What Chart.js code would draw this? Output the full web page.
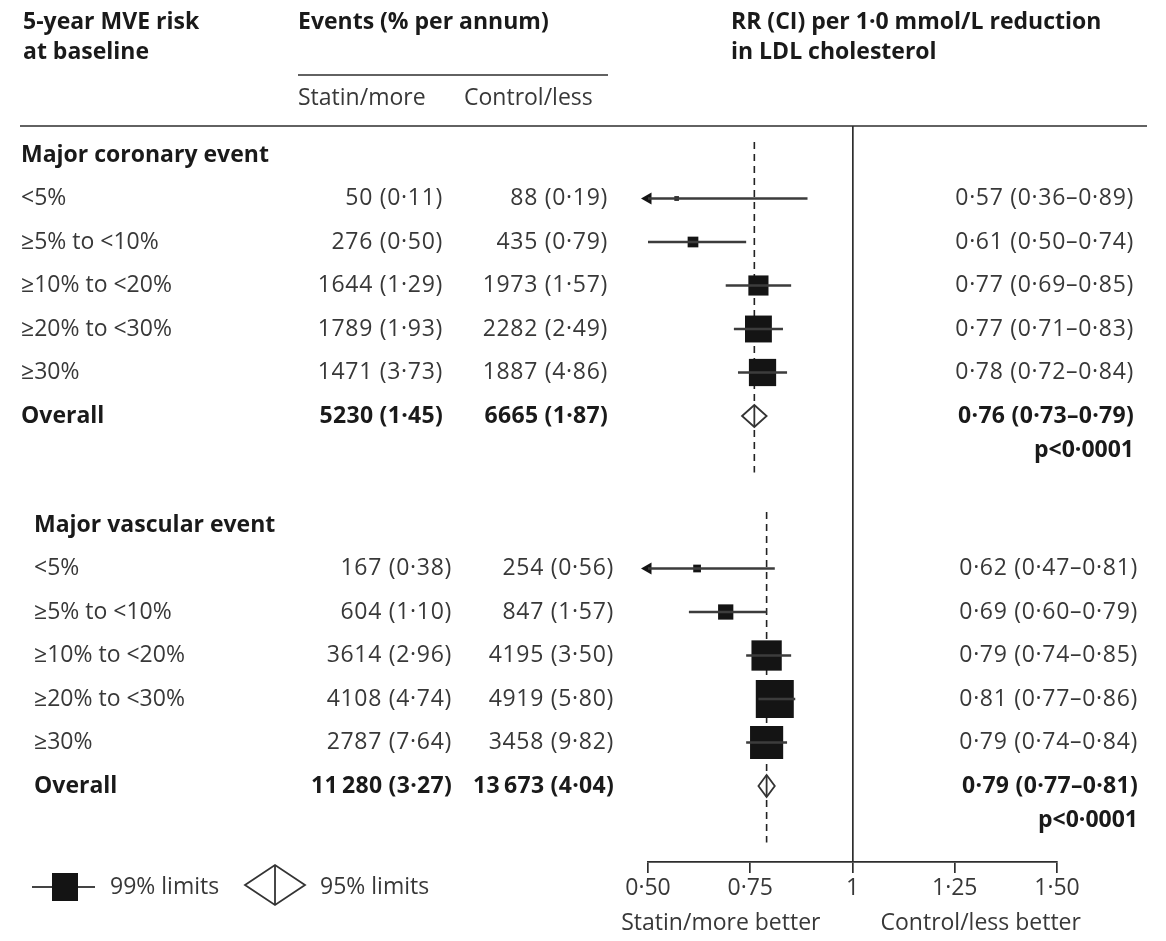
<!DOCTYPE html>
<html>
<head>
<meta charset="utf-8">
<script src="https://cdn.jsdelivr.net/npm/chart.js@4.4.1/dist/chart.umd.min.js"></script>
<style>
  html, body { margin: 0; padding: 0; background: #ffffff; }
  canvas { display: block; }
</style>
</head>
<body>
<canvas id="forest" width="1166" height="941"></canvas>
<script>
// ---- Data ---------------------------------------------------------------
// 5-year major vascular event risk at baseline
const riskGroups = ['<5%', '≥5% to <10%', '≥10% to <20%', '≥20% to <30%', '≥30%'];

// Major coronary event
const coronaryStatinEvents  = [50, 276, 1644, 1789, 1471];
const coronaryStatinRate    = [0.11, 0.50, 1.29, 1.93, 3.73];
const coronaryControlEvents = [88, 435, 1973, 2282, 1887];
const coronaryControlRate   = [0.19, 0.79, 1.57, 2.49, 4.86];
const coronaryRR    = [0.57, 0.61, 0.77, 0.77, 0.78];
const coronaryLower = [0.36, 0.50, 0.69, 0.71, 0.72];
const coronaryUpper = [0.89, 0.74, 0.85, 0.83, 0.84];
const coronaryOverallEvents = [5230, 6665];   // statin/more, control/less
const coronaryOverallRate   = [1.45, 1.87];
const coronaryOverallRR     = [0.76, 0.73, 0.79]; // RR, lower, upper

// Major vascular event
const vascularStatinEvents  = [167, 604, 3614, 4108, 2787];
const vascularStatinRate    = [0.38, 1.10, 2.96, 4.74, 7.64];
const vascularControlEvents = [254, 847, 4195, 4919, 3458];
const vascularControlRate   = [0.56, 1.57, 3.50, 5.80, 9.82];
const vascularRR    = [0.62, 0.69, 0.79, 0.81, 0.79];
const vascularLower = [0.47, 0.60, 0.74, 0.77, 0.74];
const vascularUpper = [0.81, 0.79, 0.85, 0.86, 0.84];
const vascularOverallEvents = [11280, 13673];
const vascularOverallRate   = [3.27, 4.04];
const vascularOverallRR     = [0.79, 0.77, 0.81];

const overallP = ['p<0·0001', 'p<0·0001'];

// Rate-ratio axis
const axisTicks      = [0.5, 0.75, 1, 1.25, 1.5];
const axisTickLabels = ['0·50', '0·75', '1', '1·25', '1·50'];

// ---- Layout & style ----------------------------------------------------
const W = 1166, H = 941;
const PLOT_TOP = 126, PLOT_BOTTOM = 862, PLOT_LEFT = 648, PLOT_RIGHT = 1057;
const ROW = 43.5;                 // pixels per table row
const FIRST_ROW_Y = 155;          // centre of the first section heading
const Y_MIN = -(FIRST_ROW_Y - PLOT_TOP) / ROW;
const Y_MAX = Y_MIN + (PLOT_BOTTOM - PLOT_TOP) / ROW;
const BOX_SCALE = 4.2;            // box side (px) per unit of 1/ln(upper/lower)

const FONT = '"Open Sans", "Noto Sans", sans-serif';
const FONT_SIZE = 23;
const TEXT = '#383838';
const TEXT_BOLD = '#1a1a1a';
const LINE = '#2e2e2e';

const sections = [
  {
    title: 'Major coronary event', start: 0,
    statinN: coronaryStatinEvents, statinR: coronaryStatinRate,
    controlN: coronaryControlEvents, controlR: coronaryControlRate,
    rr: coronaryRR, lo: coronaryLower, hi: coronaryUpper,
    overallN: coronaryOverallEvents, overallR: coronaryOverallRate, overall: coronaryOverallRR,
    p: overallP[0],
    cols: { label: 21, statin: 443, control: 608, rr: 1134 }
  },
  {
    title: 'Major vascular event', start: (525 - FIRST_ROW_Y) / ROW,
    statinN: vascularStatinEvents, statinR: vascularStatinRate,
    controlN: vascularControlEvents, controlR: vascularControlRate,
    rr: vascularRR, lo: vascularLower, hi: vascularUpper,
    overallN: vascularOverallEvents, overallR: vascularOverallRate, overall: vascularOverallRR,
    p: overallP[1],
    cols: { label: 34, statin: 452, control: 614, rr: 1138 }
  }
];

// ---- Formatting --------------------------------------------------------
const dec = (v, d) => v.toFixed(d).replace('.', '·');
const count = n => n >= 10000 ? String(n).replace(/(\d)(?=(\d{3})+$)/g, '$1\u2009') : String(n);
const eventText = (n, r) => `${count(n)} (${dec(r, 2)})`;
const rrText = (rr, lo, hi) => `${dec(rr, 2)} (${dec(lo, 2)}–${dec(hi, 2)})`;

// ---- Datasets ----------------------------------------------------------
const ciData = [], boxData = [], boxRadius = [], arrowData = [];
sections.forEach(s => {
  s.rr.forEach((rr, i) => {
    const y = s.start + 1 + i;
    ciData.push({ x: Math.max(s.lo[i], axisTicks[0]), y }, { x: s.hi[i], y }, { x: null, y: null });
    boxData.push({ x: rr, y });
    const side = BOX_SCALE / Math.log(s.hi[i] / s.lo[i]);
    boxRadius.push(side / Math.SQRT2);
    if (s.lo[i] < axisTicks[0]) arrowData.push({ x: axisTicks[0], y });
  });
});

// ---- Drawing helpers ---------------------------------------------------
function text(ctx, str, x, y, opts = {}) {
  ctx.save();
  ctx.font = `${opts.bold ? 'bold ' : ''}${opts.size || FONT_SIZE}px ${FONT}`;
  ctx.fillStyle = opts.bold ? TEXT_BOLD : TEXT;
  ctx.textAlign = opts.align || 'left';
  ctx.textBaseline = 'middle';
  if ('letterSpacing' in ctx) ctx.letterSpacing = (opts.spacing || 0) + 'px';
  ctx.fillText(str, x, y);
  ctx.restore();
}
function hline(ctx, x1, x2, y, w = 1.7) {
  ctx.save();
  ctx.strokeStyle = LINE; ctx.lineWidth = w;
  ctx.beginPath(); ctx.moveTo(x1, y); ctx.lineTo(x2, y); ctx.stroke();
  ctx.restore();
}
function diamond(ctx, xl, xc, xr, yc, half) {
  ctx.save();
  ctx.beginPath();
  ctx.moveTo(xl, yc); ctx.lineTo(xc, yc - half); ctx.lineTo(xr, yc); ctx.lineTo(xc, yc + half);
  ctx.closePath();
  ctx.fillStyle = '#ffffff'; ctx.fill();
  ctx.strokeStyle = '#333333'; ctx.lineWidth = 1.8; ctx.stroke();
  ctx.beginPath(); ctx.moveTo(xc, yc - half); ctx.lineTo(xc, yc + half); ctx.stroke();
  ctx.restore();
}

// Reference lines at each section's overall estimate, behind the markers
const referencePlugin = {
  id: 'overallReference',
  beforeDatasetsDraw(chart) {
    const { ctx, scales: { x, y } } = chart;
    ctx.save();
    ctx.strokeStyle = '#222'; ctx.lineWidth = 1.6; ctx.setLineDash([7, 5]);
    sections.forEach(s => {
      const px = x.getPixelForValue(s.overall[0]);
      ctx.beginPath();
      ctx.moveTo(px, y.getPixelForValue(s.start - 0.3));
      ctx.lineTo(px, y.getPixelForValue(s.start + 7.3));
      ctx.stroke();
    });
    ctx.restore();
  }
};

// Overall estimates as diamonds spanning their confidence limits
const diamondPlugin = {
  id: 'overallDiamonds',
  afterDatasetsDraw(chart) {
    const { ctx, scales: { x, y } } = chart;
    sections.forEach(s => {
      const [rr, lo, hi] = s.overall;
      diamond(ctx, x.getPixelForValue(lo), x.getPixelForValue(rr), x.getPixelForValue(hi),
              y.getPixelForValue(s.start + 6), 11);
    });
  }
};

// Table columns, headings, rules, legend and axis captions
const tablePlugin = {
  id: 'forestTable',
  afterDraw(chart) {
    const { ctx, scales: { x, y }, chartArea } = chart;

    // Column headings
    text(ctx, '5-year MVE risk', 23, 22, { bold: true });
    text(ctx, 'at baseline', 23, 52, { bold: true });
    text(ctx, 'Events (% per annum)', 298, 22, { bold: true });
    hline(ctx, 298, 608, 75);
    text(ctx, 'Statin/more', 298, 98);
    text(ctx, 'Control/less', 464, 98);
    text(ctx, 'RR (CI) per 1·0 mmol/L reduction', 731, 22, { bold: true });
    text(ctx, 'in LDL cholesterol', 731, 52, { bold: true });
    hline(ctx, 20, 1147, chartArea.top);

    // Rows
    sections.forEach(s => {
      const c = s.cols;
      text(ctx, s.title, c.label, y.getPixelForValue(s.start), { bold: true });
      riskGroups.forEach((g, i) => {
        const py = y.getPixelForValue(s.start + 1 + i);
        text(ctx, g, c.label, py);
        text(ctx, eventText(s.statinN[i], s.statinR[i]), c.statin, py, { align: 'right', spacing: 0.7 });
        text(ctx, eventText(s.controlN[i], s.controlR[i]), c.control, py, { align: 'right', spacing: 0.7 });
        text(ctx, rrText(s.rr[i], s.lo[i], s.hi[i]), c.rr, py, { align: 'right', spacing: 0.7 });
      });
      const po = y.getPixelForValue(s.start + 6);
      text(ctx, 'Overall', c.label, po, { bold: true });
      text(ctx, eventText(s.overallN[0], s.overallR[0]), c.statin, po, { align: 'right', bold: true, spacing: 0.3 });
      text(ctx, eventText(s.overallN[1], s.overallR[1]), c.control, po, { align: 'right', bold: true, spacing: 0.3 });
      text(ctx, rrText(...s.overall), c.rr, po, { align: 'right', bold: true, spacing: 0.3 });
      text(ctx, s.p, c.rr, y.getPixelForValue(s.start + 6.8), { align: 'right', bold: true });
    });

    // Axis captions either side of the line of no effect
    const one = x.getPixelForValue(1);
    text(ctx, 'Statin/more better', one - 32, chartArea.bottom + 61, { align: 'right' });
    text(ctx, 'Control/less better', one + 28, chartArea.bottom + 61);

    // Key
    const ky = 887;
    ctx.save();
    ctx.strokeStyle = '#444'; ctx.lineWidth = 2.2;
    ctx.beginPath(); ctx.moveTo(32, ky); ctx.lineTo(95, ky); ctx.stroke();
    ctx.fillStyle = '#141414'; ctx.fillRect(52, ky - 14, 26, 28);
    ctx.restore();
    text(ctx, '99% limits', 110, ky);
    diamond(ctx, 245, 275, 305, ky - 2, 20);
    text(ctx, '95% limits', 320, ky);
  }
};

// ---- Chart -------------------------------------------------------------
new Chart(document.getElementById('forest'), {
  type: 'scatter',
  data: {
    datasets: [
      {
        label: 'Confidence interval',
        data: ciData,
        showLine: true,
        spanGaps: false,
        borderColor: '#3c3c3c',
        borderWidth: 2.3,
        pointRadius: 0
      },
      {
        label: 'Rate ratio',
        data: boxData,
        pointStyle: 'rect',
        pointRadius: boxRadius,
        backgroundColor: '#141414',
        borderWidth: 0
      },
      {
        label: 'Truncated interval',
        data: arrowData,
        pointStyle: 'triangle',
        rotation: -90,
        pointRadius: 7,
        backgroundColor: '#141414',
        borderWidth: 0,
        clip: false
      }
    ]
  },
  options: {
    responsive: false,
    animation: false,
    events: [],
    layout: { padding: { left: PLOT_LEFT, right: W - PLOT_RIGHT, top: PLOT_TOP, bottom: 0 } },
    plugins: { legend: { display: false }, tooltip: { enabled: false } },
    scales: {
      x: {
        type: 'linear',
        min: axisTicks[0],
        max: axisTicks[axisTicks.length - 1],
        afterBuildTicks: s => { s.ticks = axisTicks.map(v => ({ value: v })); },
        afterFit: s => { s.height = H - PLOT_BOTTOM; },
        ticks: {
          autoSkip: false,
          maxRotation: 0,
          padding: 2,
          color: TEXT,
          font: { family: FONT, size: FONT_SIZE },
          callback: v => axisTickLabels[axisTicks.indexOf(v)]
        },
        grid: {
          drawOnChartArea: true,
          color: c => (c.tick && c.tick.value === 1) ? LINE : 'rgba(0,0,0,0)',
          tickColor: LINE,
          tickLength: 11,
          lineWidth: 1.7,
          tickWidth: 1.7
        },
        border: { display: true, color: LINE, width: 1.7 }
      },
      y: {
        type: 'linear',
        display: false,
        reverse: true,
        min: Y_MIN,
        max: Y_MAX
      }
    }
  },
  plugins: [referencePlugin, diamondPlugin, tablePlugin]
});
</script>
</body>
</html>
